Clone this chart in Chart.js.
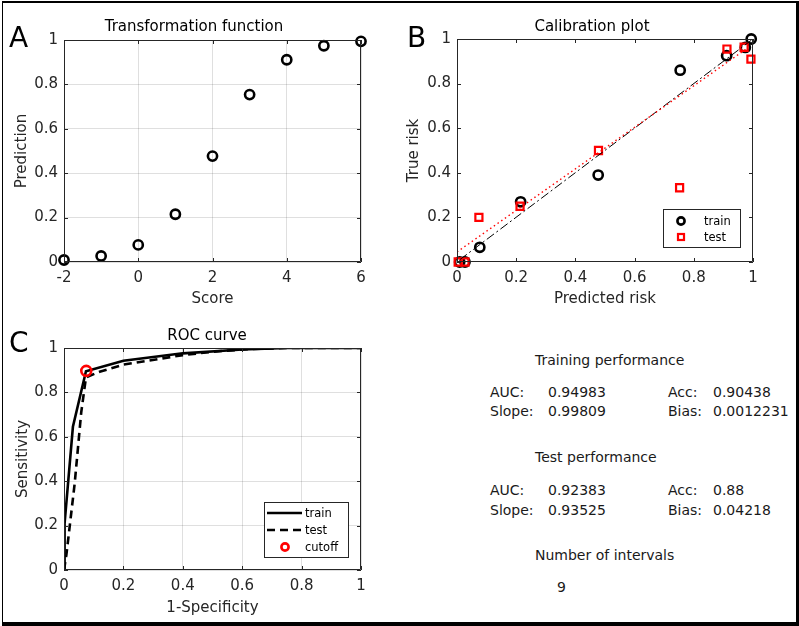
<!DOCTYPE html>
<html>
<head>
<meta charset="utf-8">
<script src="https://cdn.jsdelivr.net/npm/chart.js@4.4.1/dist/chart.umd.min.js"></script>
<style>
  body { margin: 0; width: 799px; height: 626px; overflow: hidden; position: relative; background: #fff;
         font-family: "DejaVu Sans", sans-serif; color: #262626; }
  .frame { position: absolute; left: 2px; top: 1px; width: 793px; height: 619px;
           border-left: 1px solid #000; border-top: 2px solid #000; border-right: 3px solid #000; border-bottom: 4px solid #000; }
  .box { position: absolute; }
  .txt { position: absolute; font-size: 14px; line-height: 18px; white-space: nowrap; color: #1a1a1a; }
  .ttl { position: absolute; font-size: 15px; line-height: 18px; white-space: nowrap; transform: translateX(-50%); color: #000; }
  .letter { position: absolute; font-size: 28px; line-height: 32px; color: #000; }
</style>
</head>
<body>
<div class="frame"></div>

<div class="box" style="left:0;top:0;width:400px;height:310px"><canvas id="chartA" width="400" height="310"></canvas></div>
<div class="box" style="left:400px;top:0;width:399px;height:310px"><canvas id="chartB" width="399" height="310"></canvas></div>
<div class="box" style="left:0;top:310px;width:400px;height:316px"><canvas id="chartC" width="400" height="316"></canvas></div>

<div class="letter" style="left:9px;top:22px">A</div>
<div class="letter" style="left:407px;top:22px">B</div>
<div class="letter" style="left:9px;top:327px">C</div>

<div class="ttl" style="left:194px;top:17px">Transformation function</div>
<div class="ttl" style="left:592px;top:17px">Calibration plot</div>
<div class="ttl" style="left:207px;top:326px">ROC curve</div>

<div class="txt" style="left:535px;top:351px">Training performance</div>
<div class="txt" style="left:490px;top:383px">AUC:</div>
<div class="txt" style="left:548px;top:383px">0.94983</div>
<div class="txt" style="left:668px;top:383px">Acc:</div>
<div class="txt" style="left:713px;top:383px">0.90438</div>
<div class="txt" style="left:490px;top:402px">Slope:</div>
<div class="txt" style="left:548px;top:402px">0.99809</div>
<div class="txt" style="left:668px;top:402px">Bias:</div>
<div class="txt" style="left:713px;top:402px">0.0012231</div>
<div class="txt" style="left:535px;top:448px">Test performance</div>
<div class="txt" style="left:490px;top:481px">AUC:</div>
<div class="txt" style="left:548px;top:481px">0.92383</div>
<div class="txt" style="left:668px;top:481px">Acc:</div>
<div class="txt" style="left:713px;top:481px">0.88</div>
<div class="txt" style="left:490px;top:501px">Slope:</div>
<div class="txt" style="left:548px;top:501px">0.93525</div>
<div class="txt" style="left:668px;top:501px">Bias:</div>
<div class="txt" style="left:713px;top:501px">0.04218</div>
<div class="txt" style="left:535px;top:546px">Number of intervals</div>
<div class="txt" style="left:557px;top:578px">9</div>

<script>
// A: transformation function
const scores = [-2, -1, 0, 1, 2, 3, 4, 5, 6];
const predictions = [0.009, 0.027, 0.077, 0.215, 0.477, 0.754, 0.911, 0.974, 0.994];

// B: calibration plot
const predRisk = [0.009, 0.027, 0.077, 0.215, 0.477, 0.754, 0.911, 0.974, 0.994];
const trueRiskTrain = [0, 0, 0.066, 0.27, 0.39, 0.86, 0.925, 0.962, 1.0];
const predRiskTest = [0.004, 0.027, 0.074, 0.213, 0.478, 0.752, 0.912, 0.97, 0.993];
const trueRiskTest = [0, 0, 0.2, 0.25, 0.5, 0.333, 0.955, 0.963, 0.91];
const fitTrainX = [0.009, 0.994];
const fitTrainY = [0.01, 0.994];
const fitTestX = [0.0, 0.98];
const fitTestY = [0.045, 0.958];

// C: ROC curve
const fprTrain = [0, 0.002, 0.03, 0.074, 0.2, 0.4, 0.6, 0.75, 1];
const tprTrain = [0, 0.21, 0.645, 0.895, 0.943, 0.976, 0.993, 1, 1];
const fprTest = [0, 0.008, 0.036, 0.058, 0.074, 0.12, 0.2, 0.4, 0.5, 0.62, 0.75, 1];
const tprTest = [0, 0.068, 0.39, 0.71, 0.868, 0.893, 0.925, 0.968, 0.983, 0.995, 1, 1];
const cutoffX = [0.075];
const cutoffY = [0.897];

const ticks01 = [0, 0.2, 0.4, 0.6, 0.8, 1];
const ticksScore = [-2, 0, 2, 4, 6];

const axisColor = '#262626';
const gridColor = 'rgba(38,38,38,0.15)';
const tickFont = { family: 'DejaVu Sans', size: 15 };

function pts(xs, ys) {
  return xs.map((x, i) => ({ x: x, y: ys[i] }));
}

// box round the axes, with inward ticks on all four sides (matlab style)
const boxTicks = {
  id: 'boxTicks',
  afterDraw(chart) {
    const { ctx, chartArea: a, scales } = chart;
    ctx.save();
    ctx.strokeStyle = axisColor;
    ctx.lineWidth = 1;
    ctx.beginPath();
    ctx.rect(a.left + 0.5, a.top + 0.5, a.right - a.left - 1, a.bottom - a.top - 1);
    scales.x.ticks.forEach(t => {
      const px = Math.round(scales.x.getPixelForValue(t.value)) + 0.5;
      ctx.moveTo(px, a.bottom); ctx.lineTo(px, a.bottom - 4);
      ctx.moveTo(px, a.top); ctx.lineTo(px, a.top + 4);
    });
    scales.y.ticks.forEach(t => {
      const py = Math.round(scales.y.getPixelForValue(t.value)) + 0.5;
      ctx.moveTo(a.left, py); ctx.lineTo(a.left + 4, py);
      ctx.moveTo(a.right, py); ctx.lineTo(a.right - 4, py);
    });
    ctx.stroke();
    ctx.restore();
  }
};

// legend box drawn inside the axes
const boxLegend = {
  id: 'boxLegend',
  afterDraw(chart, args, opts) {
    if (!opts.items) return;
    const { ctx } = chart;
    ctx.save();
    ctx.fillStyle = '#fff';
    ctx.fillRect(opts.x, opts.y, opts.w, opts.h);
    ctx.strokeStyle = axisColor;
    ctx.lineWidth = 1;
    ctx.strokeRect(opts.x + 0.5, opts.y + 0.5, opts.w, opts.h);
    ctx.font = '11.5px "DejaVu Sans"';
    ctx.textBaseline = 'middle';
    opts.items.forEach((it, i) => {
      const cy = opts.y + opts.first + i * opts.step;
      ctx.strokeStyle = it.color;
      ctx.lineWidth = it.width;
      if (it.kind === 'line') {
        ctx.setLineDash(it.dash || []);
        ctx.beginPath();
        ctx.moveTo(opts.x + opts.lineX0, cy); ctx.lineTo(opts.x + opts.lineX1, cy);
        ctx.stroke();
        ctx.setLineDash([]);
      } else if (it.kind === 'circle') {
        ctx.beginPath();
        ctx.arc(opts.x + opts.markX, cy, 3.6, 0, Math.PI * 2);
        ctx.stroke();
      } else if (it.kind === 'rect') {
        ctx.strokeRect(opts.x + opts.markX - 3, cy - 3, 6, 6);
      }
      ctx.fillStyle = '#000';
      ctx.fillText(it.label, opts.x + opts.textX, cy + 1);
    });
    ctx.restore();
  }
};

function linAxis(min, max, list, title, opt) {
  return {
    type: 'linear', min: min, max: max,
    afterBuildTicks: s => { s.ticks = list.map(v => ({ value: v })); },
    afterFit: s => { if (opt.size && s.isHorizontal()) s.height = opt.size; else if (opt.size) s.width = opt.size; },
    border: { display: false },
    grid: { display: opt.grid, color: gridColor, drawTicks: false, lineWidth: 1 },
    ticks: { color: axisColor, font: tickFont, padding: opt.pad, callback: v => String(Math.round(v * 1000) / 1000) },
    title: { display: true, text: title, color: axisColor, font: tickFont, padding: opt.titlePad }
  };
}

function baseOptions(pad, xAxis, yAxis, legend) {
  return {
    responsive: false,
    animation: false,
    layout: { padding: pad },
    plugins: { legend: { display: false }, tooltip: { enabled: false }, boxLegend: legend || {} },
    scales: { x: xAxis, y: yAxis }
  };
}

const circle = { pointStyle: 'circle', pointRadius: 4.6, pointBorderWidth: 2.6, pointBackgroundColor: 'rgba(0,0,0,0)', showLine: false, clip: false };

new Chart(document.getElementById('chartA'), {
  type: 'scatter',
  data: {
    datasets: [Object.assign({ data: pts(scores, predictions), pointBorderColor: '#000' }, circle)]
  },
  options: baseOptions({ top: 40, right: 39, left: 0, bottom: 0 },
    linAxis(-2, 6, ticksScore, 'Score', { size: 48, grid: true, pad: 7, titlePad: { top: 0, bottom: 2 } }),
    linAxis(0, 1, ticks01, 'Prediction', { size: 64, grid: true, pad: 6, titlePad: { top: 13, bottom: 0 } })),
  plugins: [boxTicks, boxLegend]
});

new Chart(document.getElementById('chartB'), {
  type: 'scatter',
  data: {
    datasets: [
      { data: pts(fitTrainX, fitTrainY), showLine: true, borderColor: '#000', borderWidth: 1, borderDash: [9, 3, 2, 3], pointRadius: 0, order: 1 },
      { data: pts(fitTestX, fitTestY), showLine: true, borderColor: '#ff0000', borderWidth: 1.4, borderDash: [1.5, 3], pointRadius: 0, order: 0 },
      Object.assign({ data: pts(predRisk, trueRiskTrain), pointBorderColor: '#000', order: 3 }, circle),
      { data: pts(predRiskTest, trueRiskTest), pointStyle: 'rect', pointRadius: 5, pointBorderWidth: 2.2, pointBorderColor: '#ff0000',
        pointBackgroundColor: 'rgba(0,0,0,0)', showLine: false, clip: false, order: 2 }
    ]
  },
  options: baseOptions({ top: 39, right: 46, left: 0, bottom: 0 },
    linAxis(0, 1, ticks01, 'Predicted risk', { size: 48, grid: false, pad: 7, titlePad: { top: 0, bottom: 2 } }),
    linAxis(0, 1, ticks01, 'True risk', { size: 57, grid: false, pad: 6, titlePad: { top: 5, bottom: 0 } }),
    { x: 263, y: 209, w: 77, h: 38, first: 12, step: 16, markX: 18, textX: 41,
      items: [
        { kind: 'circle', color: '#000', width: 2.6, label: 'train' },
        { kind: 'rect', color: '#ff0000', width: 2.2, label: 'test' }
      ] }),
  plugins: [boxTicks, boxLegend]
});

new Chart(document.getElementById('chartC'), {
  type: 'scatter',
  data: {
    datasets: [
      { data: pts(cutoffX, cutoffY), pointStyle: 'circle', pointRadius: 5, pointBorderWidth: 2.6, pointBorderColor: '#ff0000',
        pointBackgroundColor: 'rgba(0,0,0,0)', showLine: false, clip: false, order: 0 },
      { data: pts(fprTrain, tprTrain), showLine: true, borderColor: '#000', borderWidth: 2.6, pointRadius: 0, order: 1 },
      { data: pts(fprTest, tprTest), showLine: true, borderColor: '#000', borderWidth: 2.6, borderDash: [8, 5], pointRadius: 0, order: 2 }
    ]
  },
  options: baseOptions({ top: 38, right: 39, left: 0, bottom: 0 },
    linAxis(0, 1, ticks01, '1-Specificity', { size: 56, grid: true, pad: 7, titlePad: { top: 0, bottom: 9 } }),
    linAxis(0, 1, ticks01, 'Sensitivity', { size: 64, grid: true, pad: 6, titlePad: { top: 14, bottom: 0 } }),
    { x: 264, y: 192, w: 84, h: 55, first: 11, step: 17, lineX0: 3, lineX1: 38, markX: 21, textX: 41,
      items: [
        { kind: 'line', color: '#000', width: 2.6, label: 'train' },
        { kind: 'line', color: '#000', width: 2.6, dash: [8, 5], label: 'test' },
        { kind: 'circle', color: '#ff0000', width: 2.6, label: 'cutoff' }
      ] }),
  plugins: [boxTicks, boxLegend]
});
</script>
</body>
</html>
